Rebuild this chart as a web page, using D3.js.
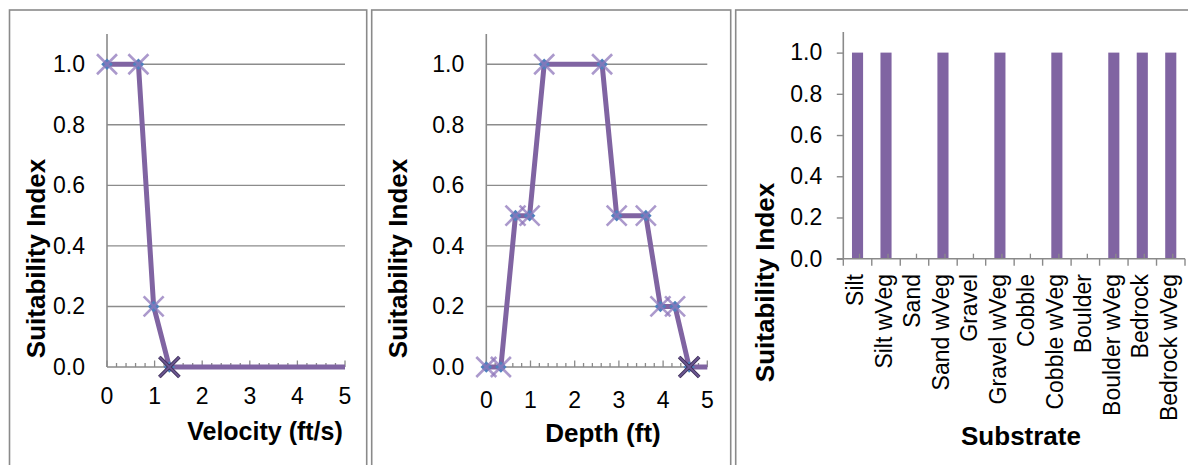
<!DOCTYPE html>
<html>
<head>
<meta charset="utf-8">
<script src="https://cdn.jsdelivr.net/npm/d3@7"></script>
<style>
  html, body { margin: 0; padding: 0; background: #fff; }
  svg { display: block; }
  text { font-family: "Liberation Sans", Arial, sans-serif; fill: #000; }
</style>
</head>
<body>
<svg id="chart" width="1188" height="465"></svg>
<script>
// ---- data ----
const velocity      = [0, 0.66, 0.98, 1.31, 5];
const velocitySI    = [1, 1, 0.2, 0, 0];
const velocityMark  = ["light", "light", "light", "dark", "none"];

const depth         = [0, 0.33, 0.66, 0.98, 1.31, 2.62, 2.95, 3.61, 3.94, 4.27, 4.59, 5];
const depthSI       = [0, 0, 0.5, 0.5, 1, 1, 0.5, 0.5, 0.2, 0.2, 0, 0];
const depthMark     = ["light","light","light","light","light","light","light","light","light","light","dark","none"];

const substrates    = ["Silt", "Silt wVeg", "Sand", "Sand wVeg", "Gravel", "Gravel wVeg",
                       "Cobble", "Cobble wVeg", "Boulder", "Boulder wVeg", "Bedrock", "Bedrock wVeg"];
const substrateSI   = [1, 1, 0, 1, 0, 1, 0, 1, 0, 1, 1, 1];

const xTicks        = [0, 1, 2, 3, 4, 5];
const yTicks        = [0, 0.2, 0.4, 0.6, 0.8, 1.0];

const yTitle = "Suitability Index";

// ---- drawing ----
const svg = d3.select("#chart");
const PURPLE = "#8064A2";
const GRID = "#8c8c8c";
const AXIS = "#8a8a8a";
const FONT = 23;

// panel borders
[[9.5, 357.2], [371.7, 359], [735.7, 470]].forEach(([x, w]) => {
  svg.append("rect").attr("x", x).attr("y", 10).attr("width", w).attr("height", 480)
    .attr("fill", "none").attr("stroke", AXIS).attr("stroke-width", 1.6);
});

function linePanel(cfg) {
  const x = d3.scaleLinear().domain([0, 5]).range([cfg.x0, cfg.x1]);
  const y = d3.scaleLinear().domain([0, 1.1]).range([367, 34]);
  const g = svg.append("g");

  // gridlines
  g.selectAll(".grid").data(yTicks.filter(d => d > 0)).join("line")
    .attr("x1", cfg.x0).attr("x2", cfg.x1)
    .attr("y1", d => y(d)).attr("y2", d => y(d))
    .attr("stroke", GRID).attr("stroke-width", 1.4);

  // y axis
  const yAxis = g.append("g").attr("transform", `translate(${cfg.x0},0)`)
    .call(d3.axisLeft(y).tickValues(yTicks).tickFormat(d3.format(".1f")).tickSize(0).tickPadding(22));
  yAxis.select(".domain").remove();
  yAxis.selectAll("text").attr("font-size", FONT).style("font-family", "Liberation Sans, Arial, sans-serif");
  g.append("line").attr("x1", cfg.x0).attr("x2", cfg.x0).attr("y1", y(1.1)).attr("y2", y(0))
    .attr("stroke", AXIS).attr("stroke-width", 1.6);

  // x axis with inside ticks
  const minor = d3.range(0, 26).map(i => i * 0.2);
  g.selectAll(".minor").data(minor).join("line")
    .attr("x1", d => x(d)).attr("x2", d => x(d))
    .attr("y1", y(0)).attr("y2", d => Math.abs(d - Math.round(d)) < 1e-6 ? y(0) - 6.5 : y(0) - 4)
    .attr("stroke", AXIS).attr("stroke-width", 1.3);
  g.append("line").attr("x1", cfg.x0).attr("x2", cfg.x1).attr("y1", y(0)).attr("y2", y(0))
    .attr("stroke", AXIS).attr("stroke-width", 1.6);
  g.selectAll(".xl").data(xTicks).join("text")
    .attr("x", d => x(d)).attr("y", cfg.xLabelY)
    .attr("text-anchor", "middle").attr("font-size", FONT).text(d => d);

  // line
  const pts = cfg.xs.map((v, i) => [v, cfg.ys[i], cfg.marks[i]]);
  g.append("path").datum(pts)
    .attr("d", d3.line().x(d => x(d[0])).y(d => y(d[1])))
    .attr("fill", "none").attr("stroke", PURPLE).attr("stroke-width", 5)
    .attr("stroke-linejoin", "miter");

  const mk = pts.filter(d => d[2] !== "none");
  // diamonds
  g.selectAll(".dia").data(mk).join("path")
    .attr("transform", d => `translate(${x(d[0])},${y(d[1])})`)
    .attr("d", "M0,-5.8L5.8,0L0,5.8L-5.8,0Z")
    .attr("fill", "#4F81BD");
  // X markers
  const xpath = "M-10,-10L10,10M-10,10L10,-10";
  g.selectAll(".xm").data(mk).join("path")
    .attr("transform", d => `translate(${x(d[0])},${y(d[1])})`)
    .attr("d", xpath)
    .attr("fill", "none")
    .attr("stroke", d => d[2] === "dark" ? "#3d2f55" : "#8f77bb")
    .attr("stroke-width", d => d[2] === "dark" ? 3.8 : 2.6)
    .attr("opacity", d => d[2] === "dark" ? 1 : 0.75);
  g.selectAll(".xm2").data(mk.filter(d => d[2] === "dark")).join("path")
    .attr("transform", d => `translate(${x(d[0])},${y(d[1])})`)
    .attr("d", xpath)
    .attr("fill", "none").attr("stroke", "#6a5590").attr("stroke-width", 1.8);

  // titles
  g.append("text").attr("x", cfg.titleX).attr("y", cfg.titleY)
    .attr("text-anchor", "middle").attr("font-size", cfg.titleSize).attr("font-weight", "bold").text(cfg.title);
  g.append("text").attr("transform", `translate(${cfg.yTitleX},258.5) rotate(-90)`)
    .attr("text-anchor", "middle").attr("font-size", 26).attr("font-weight", "bold").text(yTitle);
}

linePanel({ x0: 107, x1: 345, xs: velocity, ys: velocitySI, marks: velocityMark,
  xLabelY: 404, title: "Velocity (ft/s)", titleX: 265, titleY: 440, titleSize: 25, yTitleX: 44.5 });
linePanel({ x0: 486.3, x1: 707.3, xs: depth, ys: depthSI, marks: depthMark,
  xLabelY: 407.5, title: "Depth (ft)", titleX: 603, titleY: 441.5, titleSize: 26, yTitleX: 407 });

// ---- bar panel ----
(function () {
  const x = d3.scaleBand().domain(substrates).range([843.3, 1185]).padding(0);
  const y = d3.scaleLinear().domain([0, 1.1]).range([258.7, 32]);
  const g = svg.append("g");
  const bw = x.bandwidth() * 0.39;

  g.selectAll(".bar").data(substrates.map((s, i) => [s, substrateSI[i]])).join("rect")
    .attr("x", d => x(d[0]) + x.bandwidth() / 2 - bw / 2)
    .attr("width", bw)
    .attr("y", d => y(d[1]))
    .attr("height", d => y(0) - y(d[1]))
    .attr("fill", PURPLE);

  // y axis
  const yAxis = g.append("g").attr("transform", "translate(843.3,0)")
    .call(d3.axisLeft(y).tickValues(yTicks).tickFormat(d3.format(".1f")).tickSize(6.5).tickPadding(14.5));
  yAxis.select(".domain").remove();
  yAxis.selectAll("line").attr("stroke", AXIS).attr("stroke-width", 1.4);
  yAxis.selectAll("text").attr("font-size", FONT).style("font-family", "Liberation Sans, Arial, sans-serif");
  g.append("line").attr("x1", 843.3).attr("x2", 843.3).attr("y1", y(1.1)).attr("y2", y(0))
    .attr("stroke", AXIS).attr("stroke-width", 1.6);

  // x axis
  g.append("line").attr("x1", 836.8).attr("x2", 1185).attr("y1", y(0)).attr("y2", y(0))
    .attr("stroke", AXIS).attr("stroke-width", 1.6);
  const bounds = substrates.map(s => x(s)).concat([x.range()[1]]);
  g.selectAll(".maj").data(bounds).join("line")
    .attr("x1", d => d).attr("x2", d => d).attr("y1", y(0)).attr("y2", y(0) + 7)
    .attr("stroke", AXIS).attr("stroke-width", 1.4);
  g.selectAll(".min").data(substrates).join("line")
    .attr("x1", d => x(d) + x.bandwidth() / 2 + 2).attr("x2", d => x(d) + x.bandwidth() / 2 + 2)
    .attr("y1", y(0)).attr("y2", y(0) - 5)
    .attr("stroke", AXIS).attr("stroke-width", 1.3);

  g.selectAll(".cl").data(substrates).join("text")
    .attr("transform", d => `translate(${x(d) + x.bandwidth() / 2},274) rotate(-90)`)
    .attr("dy", "0.25em")
    .attr("text-anchor", "end").attr("font-size", FONT).text(d => d);

  g.append("text").attr("x", 1021).attr("y", 445)
    .attr("text-anchor", "middle").attr("font-size", 26).attr("font-weight", "bold").text("Substrate");
  g.append("text").attr("transform", "translate(773.5,282.5) rotate(-90)")
    .attr("text-anchor", "middle").attr("font-size", 26).attr("font-weight", "bold").text(yTitle);
})();
</script>
</body>
</html>
